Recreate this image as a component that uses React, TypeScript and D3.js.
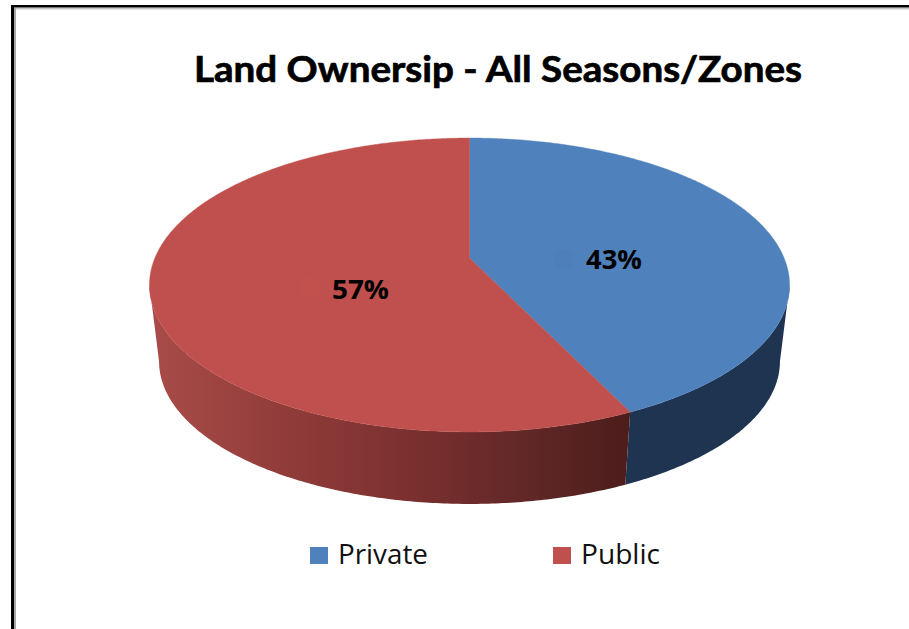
import React from "react";
import * as d3 from "d3";

const categories = ["Private", "Public"];
const shares = [43, 57];
const topColors = ["#4f81bd", "#c0504d"];
const titleText = "Land Ownersip - All Seasons/Zones";

const W = 909;
const H = 629;
const CX = 469.5;
const APEX_Y = 258;
const A = 314.6;
const B = 142;
const K = 0.1837;
const DEPTH_Y = 77.2;
const DEPTH_SCALE = 0.97;

type Pt = [number, number];

function project(theta: number, scale = 1, dy = 0, r = 1): Pt {
  const X = r * Math.sin(theta);
  const Y = -r * Math.cos(theta);
  const w = 1 - K * Y;
  return [CX + (scale * A * X) / w, APEX_Y + dy + (scale * B * Y) / w];
}

function arcSamples(a0: number, a1: number, scale = 1, dy = 0): Pt[] {
  const n = Math.max(2, Math.ceil(Math.abs(a1 - a0) / 0.01));
  return d3.range(n + 1).map((i) => project(a0 + ((a1 - a0) * i) / n, scale, dy));
}

const line = d3.line<Pt>().x((d) => d[0]).y((d) => d[1]);

export default function App() {
  const arcs = d3.pie<number>().sort(null).startAngle(0).endAngle(2 * Math.PI)(shares);
  // silhouette angles: where the rim is widest on screen
  const thetaRight = Math.acos(-K);
  const thetaLeft = 2 * Math.PI - thetaRight;

  const slices = arcs.map((a) => {
    const rim = arcSamples(a.startAngle, a.endAngle);
    return line([project(0, 1, 0, 0), ...rim])! + "Z";
  });

  const wall = (a0: number, a1: number) => {
    const t = arcSamples(a0, a1);
    const b = arcSamples(a1, a0, DEPTH_SCALE, DEPTH_Y);
    return line([...t, ...b])! + "Z";
  };
  const boundary = arcs[0].endAngle;
  const blueWall = wall(thetaRight, boundary);
  const redWall = wall(boundary, thetaLeft);

  const labelPos: { x: number; y: number; kx: number; ky: number; key: string }[] = [
    { x: 586, y: 269, kx: 555, ky: 250, key: "#4e7fbb" },
    { x: 332, y: 299, kx: 302, ky: 278, key: "#c2514e" },
  ];
  const legendPos = [
    { sx: 310, tx: 338 },
    { sx: 553, tx: 581 },
  ];

  return (
    <svg
      width={W}
      height={H}
      viewBox={`0 0 ${W} ${H}`}
      style={{ position: "fixed", left: 0, top: 0, display: "block", background: "#fff" }}
    >
      <defs>
        <linearGradient id="redSide" gradientUnits="userSpaceOnUse" x1={150} y1={0} x2={630} y2={0}>
          <stop offset="0" stopColor="#a94c49" />
          <stop offset="0.3" stopColor="#8f3b39" />
          <stop offset="0.55" stopColor="#7a302f" />
          <stop offset="0.8" stopColor="#5f2726" />
          <stop offset="1" stopColor="#4c1d1b" />
        </linearGradient>
      </defs>

      <rect x={0} y={0} width={W} height={H} fill="#fff" />
      {/* window frame */}
      <rect x={11} y={5} width={W - 11} height={2.5} fill="#000" />
      <rect x={14} y={7.5} width={W - 14} height={1} fill="#777" />
      <rect x={14} y={8.5} width={W - 14} height={1} fill="#cfcfcf" />
      <rect x={11} y={5} width={3} height={H - 5} fill="#000" />
      <rect x={14} y={8} width={2} height={H - 8} fill="#a8a8a8" />

      <text
        x={194}
        y={81.5}
        fontFamily="Lato, 'Open Sans', sans-serif"
        fontWeight={700}
        fontSize={37}
        textLength={608}
        lengthAdjust="spacingAndGlyphs"
        fill="#000"
        stroke="#000"
        strokeWidth={0.7}
      >
        {titleText}
      </text>

      <path d={blueWall} fill="#1f3450" />
      <path d={redWall} fill="url(#redSide)" />
      {slices.map((d, i) => (
        <path key={categories[i]} d={d} fill={topColors[i]} stroke={topColors[i]} strokeWidth={0.4} />
      ))}

      {shares.map((v, i) => (
        <g key={categories[i]}>
          <rect x={labelPos[i].kx} y={labelPos[i].ky} width={17} height={18} fill={labelPos[i].key} />
          <text
            x={labelPos[i].x}
            y={labelPos[i].y}
            fontFamily="'Open Sans', sans-serif"
            fontWeight={700}
            fontSize={27}
            textLength={i === 0 ? 56 : 57}
            lengthAdjust="spacingAndGlyphs"
            fill="#000"
          >
            {v}%
          </text>
        </g>
      ))}

      {categories.map((c, i) => (
        <g key={c}>
          <rect x={legendPos[i].sx} y={547} width={18} height={17} fill={topColors[i]} />
          <text
            x={legendPos[i].tx}
            y={564}
            fontFamily="'Open Sans', sans-serif"
            fontSize={27.5}
            textLength={i === 0 ? 90 : 79}
            lengthAdjust="spacingAndGlyphs"
            fill="#111"
          >
            {c}
          </text>
        </g>
      ))}
    </svg>
  );
}
